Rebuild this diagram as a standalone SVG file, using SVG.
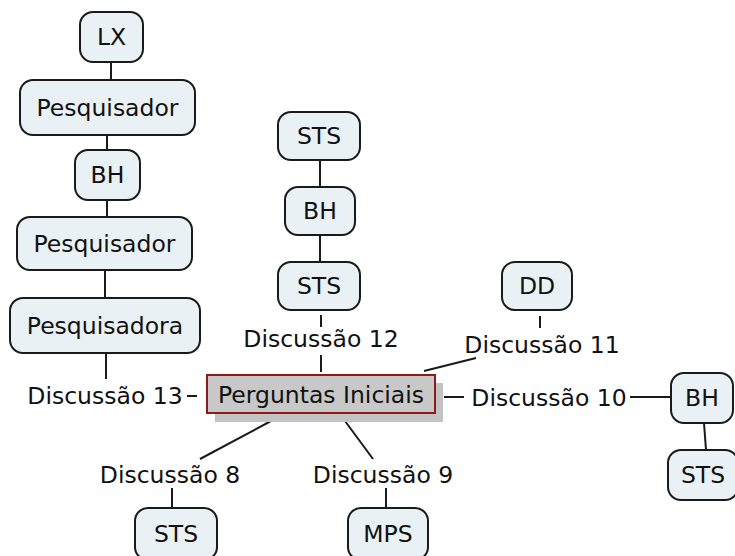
<svg xmlns="http://www.w3.org/2000/svg" width="735" height="556" viewBox="0 0 735 556">
<style>
.n rect{fill:#e9f1f5;stroke:#1a1a1a;stroke-width:2}
text{font-family:"DejaVu Sans","Verdana",sans-serif;font-size:23.5px;fill:#111;text-anchor:middle}
.c line{stroke:#1a1a1a;stroke-width:2}
</style>
<rect width="735" height="556" fill="#fff"/>
<g class="c">
<line x1="111" y1="62" x2="111" y2="80"/>
<line x1="107" y1="135" x2="107" y2="150"/>
<line x1="107" y1="200" x2="107" y2="217"/>
<line x1="105" y1="270" x2="105" y2="298"/>
<line x1="106" y1="353" x2="106" y2="379"/>
<line x1="187" y1="396" x2="197" y2="396"/>
<line x1="320" y1="160" x2="320" y2="187"/>
<line x1="320" y1="235" x2="320" y2="262"/>
<line x1="321" y1="315" x2="321" y2="327"/>
<line x1="321" y1="355" x2="321" y2="372"/>
<line x1="540" y1="316" x2="540" y2="328"/>
<line x1="424" y1="371" x2="476" y2="358"/>
<line x1="444" y1="397" x2="464" y2="397"/>
<line x1="630" y1="397" x2="671" y2="397"/>
<line x1="704" y1="423" x2="706" y2="450"/>
<line x1="271" y1="421" x2="200" y2="459"/>
<line x1="345" y1="421" x2="373" y2="459"/>
<line x1="172" y1="488" x2="172" y2="507"/>
<line x1="386" y1="488" x2="386" y2="507"/>
</g>
<g id="lx" class="n"><rect x="80" y="12" width="63" height="50" rx="13"/><text x="111.5" y="45">LX</text></g>
<g id="pesq1" class="n"><rect x="20" y="80" width="175" height="55" rx="13"/><text x="107.5" y="116">Pesquisador</text></g>
<g id="bh1" class="n"><rect x="75" y="150" width="65" height="50" rx="13"/><text x="107.5" y="183">BH</text></g>
<g id="pesq2" class="n"><rect x="17" y="217" width="175" height="53" rx="13"/><text x="104.5" y="252">Pesquisador</text></g>
<g id="pesqa" class="n"><rect x="10" y="298" width="190" height="55" rx="13"/><text x="105" y="334">Pesquisadora</text></g>
<g id="sts1" class="n"><rect x="278" y="112" width="82" height="48" rx="13"/><text x="319" y="144">STS</text></g>
<g id="bh2" class="n"><rect x="285" y="187" width="70" height="48" rx="13"/><text x="320" y="219">BH</text></g>
<g id="sts2" class="n"><rect x="278" y="262" width="82" height="48" rx="13"/><text x="319" y="294">STS</text></g>
<g id="dd" class="n"><rect x="502" y="262" width="70" height="48" rx="13"/><text x="537" y="294">DD</text></g>
<g id="bh3" class="n"><rect x="671" y="373" width="62" height="50" rx="13"/><text x="702" y="406">BH</text></g>
<g id="sts3" class="n"><rect x="668" y="450" width="70" height="50" rx="13"/><text x="703" y="483">STS</text></g>
<g id="sts4" class="n"><rect x="135" y="508" width="82" height="52" rx="13"/><text x="176" y="542">STS</text></g>
<g id="mps" class="n"><rect x="348" y="508" width="80" height="52" rx="13"/><text x="388" y="542">MPS</text></g>
<g id="perguntas">
<rect x="215" y="383" width="228" height="39" fill="#c3c3c3"/>
<rect x="207" y="375" width="228" height="38" fill="#c8c8c8" stroke="#8b1c1c" stroke-width="2"/>
<text x="321" y="403">Perguntas Iniciais</text>
</g>
<g id="labels">
<text x="105" y="404">Discussão 13</text>
<text x="321" y="347">Discussão 12</text>
<text x="542" y="353">Discussão 11</text>
<text x="549" y="406">Discussão 10</text>
<text x="170" y="483">Discussão 8</text>
<text x="383" y="483">Discussão 9</text>
</g>
</svg>
